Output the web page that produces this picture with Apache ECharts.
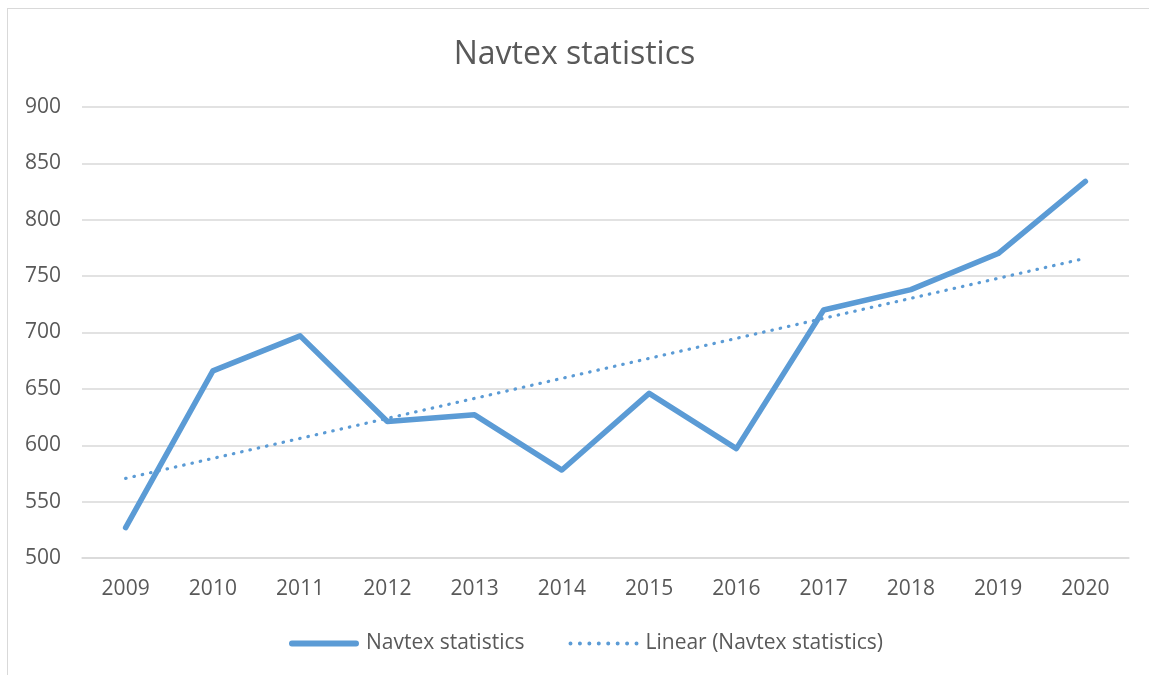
<!DOCTYPE html>
<html>
<head>
<meta charset="utf-8">
<script src="https://cdn.jsdelivr.net/npm/echarts@6/dist/echarts.min.js"></script>
<style>
html,body{margin:0;padding:0;background:#fff;overflow:hidden;}
#frame{position:absolute;left:7px;top:8px;width:1170px;height:700px;border:1.5px solid #d9d9d9;box-sizing:border-box;}
#chart{position:absolute;left:0;top:0;width:1149px;height:675px;}
</style>
</head>
<body>
<div id="frame"></div>
<div id="chart"></div>
<script>
const categories = ['2009','2010','2011','2012','2013','2014','2015','2016','2017','2018','2019','2020'];
const navtexValues = [527, 666, 697, 621, 627, 578, 646, 597, 720, 738, 770, 834];
// Linear trendline values read at its two ends (2009 and 2020)
const trendStart = 570.6;
const trendEnd = 765.8;
const yTicks = { min: 500, max: 900, interval: 50 };

const trendData = categories.map((c, i) => i === 0 ? trendStart : (i === categories.length - 1 ? trendEnd : null));

const textColor = '#595959';
const fontFamily = '"Open Sans", "Noto Sans", sans-serif';
const blue = '#5b9bd5';

// legend icons: solid rounded bar and a row of dots
let dotPath = 'path://';
for (let k = 0; k < 8; k++) {
  const cx = 1.75 + k * 8.3;
  dotPath += 'M' + (cx - 1.75) + ',1.75a1.75,1.75 0 1,0 3.5,0a1.75,1.75 0 1,0 -3.5,0z';
}
const solidPath = 'path://M3,0L69,0A3,3 0 0,1 69,6L3,6A3,3 0 0,1 3,0z';

const chart = echarts.init(document.getElementById('chart'), null, { renderer: 'canvas' });
chart.setOption({
  animation: false,
  backgroundColor: 'transparent',
  title: {
    text: 'Navtex statistics',
    left: 'center',
    top: 34,
    textStyle: { color: textColor, fontFamily: fontFamily, fontSize: 32, fontWeight: 'normal' }
  },
  legend: {
    bottom: 16,
    left: 284,
    itemGap: 44,
    itemWidth: 70,
    itemHeight: 6,
    textStyle: { color: textColor, fontFamily: fontFamily, fontSize: 21, padding: [0, 0, 0, 2] },
    data: [
      { name: 'Navtex statistics', icon: solidPath, itemStyle: { color: blue } },
      { name: 'Linear (Navtex statistics)', icon: dotPath, itemStyle: { color: blue } }
    ]
  },
  grid: { left: 82, right: 20, top: 107, bottom: 117, containLabel: false },
  xAxis: {
    type: 'category',
    data: categories,
    boundaryGap: true,
    axisLine: { show: true, lineStyle: { color: '#d9d9d9', width: 1.5 } },
    axisTick: { show: false },
    axisLabel: { color: textColor, fontFamily: fontFamily, fontSize: 21, margin: 21 }
  },
  yAxis: {
    type: 'value',
    min: yTicks.min,
    max: yTicks.max,
    interval: yTicks.interval,
    axisLine: { show: false },
    axisTick: { show: false },
    splitLine: { lineStyle: { color: '#d9d9d9', width: 1.5 } },
    axisLabel: { color: textColor, fontFamily: fontFamily, fontSize: 21, margin: 21 }
  },
  series: [
    {
      name: 'Navtex statistics',
      type: 'line',
      data: navtexValues,
      symbol: 'none',
      lineStyle: { color: blue, width: 5.5, cap: 'round', join: 'round' },
      itemStyle: { color: blue }
    },
    {
      name: 'Linear (Navtex statistics)',
      type: 'line',
      data: trendData,
      connectNulls: true,
      symbol: 'none',
      lineStyle: { color: blue, width: 3.2, type: [0.5, 8], cap: 'round' },
      itemStyle: { color: blue }
    }
  ]
});
</script>
</body>
</html>
